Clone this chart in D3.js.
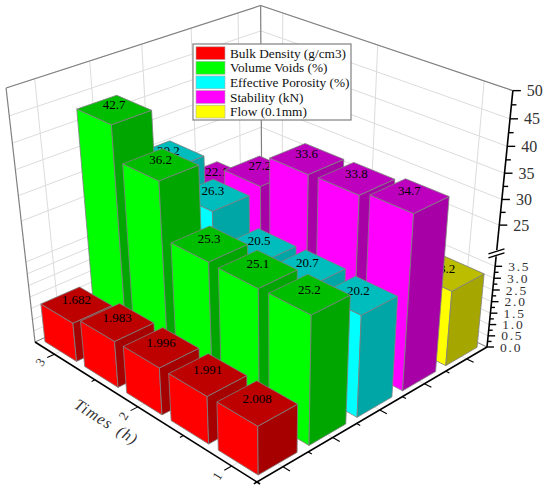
<!DOCTYPE html>
<html><head><meta charset="utf-8">
<style>html,body{margin:0;padding:0;background:#fff}svg{display:block}text{font-family:"Liberation Serif","Times New Roman",serif}</style>
<script src="https://cdn.jsdelivr.net/npm/d3@7/dist/d3.min.js"></script></head>
<body><svg id="c" width="550" height="490"></svg>
<script>
// ---- data ----
const times = ["3","2.5","2","1.5","1"];
const timeLabels = ["3","","2","","1"];
const seriesNames = ["Bulk Density (g/cm3)","Volume Voids (%)","Effective Porosity (%)","Stability (kN)","Flow (0.1mm)"];
const seriesColors = ["#ff0000","#00ff00","#00ffff","#ff00ff","#ffff00"];
const bulkDensity = [1.682,1.983,1.996,1.991,2.008];
const volumeVoids = [42.7,36.2,25.3,25.1,25.2];
const effectivePorosity = [30.2,26.3,20.5,20.7,20.2];
const stability = [22.1,27.2,33.6,33.8,34.7];
const flow = [3.5,3.4,3.3,3.3,3.2];
const seriesValues = [bulkDensity,volumeVoids,effectivePorosity,stability,flow];
const flowShown = [false,false,false,false,true];
const lowTicks = [0,0.5,1,1.5,2,2.5,3,3.5];
const highTicks = [25,30,35,40,45,50];

// ---- scales ----
const uBand = d3.scaleBand().domain(times).range([0,1]).paddingInner(0.2).paddingOuter(0.1);
const vBand = d3.scaleBand().domain(seriesNames).range([0,1]).paddingInner(0.24).paddingOuter(0.12);
const wScale = d3.scaleLinear().domain([0,3.5,3.9,20,50]).range([0,0.34,0.38,0.405,1]);

// ---- perspective from the box's floor corners and vertical vanishing point ----
const A=[35,342],B=[257,482],C=[487,347],D=[262,239],VZ=[275,2449],TOP_Y=88;
const dx1=B[0]-C[0],dx2=D[0]-C[0],sx=A[0]-B[0]+C[0]-D[0];
const dy1=B[1]-C[1],dy2=D[1]-C[1],sy=A[1]-B[1]+C[1]-D[1];
const den=dx1*dy2-dx2*dy1;
const g=(sx*dy2-dx2*sy)/den,h=(dx1*sy-sx*dy1)/den;
const a=B[0]-A[0]+g*B[0],b=D[0]-A[0]+h*D[0],c0=A[0];
const d=B[1]-A[1]+g*B[1],e=D[1]-A[1]+h*D[1],f=A[1];
const t=(TOP_Y-A[1])/(VZ[1]-TOP_Y);
function P(u,v,w){const W=g*u+h*v+1+t*w;
  return [(a*u+b*v+c0+t*w*VZ[0])/W,(d*u+e*v+f+t*w*VZ[1])/W];}
const L=d3.line();

const svg=d3.select("#c");
const walls=svg.append("g"), axes=svg.append("g"), bars=svg.append("g"), legend=svg.append("g");
const wallEdge="#808080", grid="#dcdcdc";
const seg=(g0,p,q,col,sw)=>g0.append("path").attr("d",L([p,q])).attr("stroke",col).attr("stroke-width",sw).attr("fill","none");

// ---- walls ----
const poly=(g0,pts,fill)=>g0.append("path").attr("d",L(pts)+"Z").attr("fill",fill);
poly(walls,[P(0,0,0),P(0,1,0),P(0,1,1),P(0,0,1)],"#fff");
poly(walls,[P(0,1,0),P(1,1,0),P(1,1,1),P(0,1,1)],"#fff");
const uCenters=times.map(k=>uBand(k)+uBand.bandwidth()/2);
const vCenters=seriesNames.map(k=>vBand(k)+vBand.bandwidth()/2);
const gridVals=[...lowTicks,...highTicks];
gridVals.forEach(val=>{const w=wScale(val);
  seg(walls,P(0,0,w),P(0,1,w),grid,1);
  seg(walls,P(0,1,w),P(1,1,w),grid,1);});
vCenters.forEach(v=>{seg(walls,P(0,v,0),P(0,v,1),grid,1);seg(walls,P(0,v,0),P(1,v,0),grid,1);});
[uCenters[0],uCenters[2],uCenters[4]].forEach(u=>{seg(walls,P(u,1,0),P(u,1,1),grid,1);seg(walls,P(u,0,0),P(u,1,0),grid,1);});
seg(walls,P(0,0,0),P(0,0,1),wallEdge,1.2);
seg(walls,P(0,0,1),P(0,1,1),wallEdge,1.2);
seg(walls,P(0,1,1),P(1,1,1),wallEdge,1.2);
seg(walls,P(0,1,0),P(0,1,1),wallEdge,1.2);
seg(walls,P(0,0,0),P(0,1,0),wallEdge,1);
seg(walls,P(0,1,0),P(1,1,0),wallEdge,1);

// ---- axes ----
seg(axes,P(0,0,0),P(1.012,0,0),"#000",1.6);
seg(axes,P(1,-0.012,0),P(1,1,0),"#000",1.6);
seg(axes,P(1,1,0),P(1,1,wScale(3.9)),"#000",1.6);
seg(axes,P(1,1,wScale(20)),P(1,1,1),"#000",1.6);
uCenters.forEach((u,i)=>{const major=i%2===0;
  seg(axes,P(u,0,0),P(u,major?-0.028:-0.013,0),"#000",1.1);
  if(timeLabels[i]){const p=P(u+0.006,-0.06,0);
    axes.append("text").attr("transform",`translate(${p[0]},${p[1]}) rotate(-58)`)
      .attr("text-anchor","middle").attr("dominant-baseline","central").attr("font-size",13).attr("fill","#333").text(timeLabels[i]);}
});
d3.range(1,10).forEach(k=>{const v=k/10,major=k%2===1;
  seg(axes,P(1,v,0),P(major?1.027:1.014,v,0),"#000",1.1);});
const vtick=(val,len)=>{const p=P(1,1,wScale(val));seg(axes,p,[p[0]+len,p[1]],"#000",1.4);return p;};
lowTicks.forEach(val=>{const p=vtick(val,7);
  axes.append("text").attr("x",p[0]+13).attr("y",p[1]).attr("dominant-baseline","central").attr("font-size",13.5).attr("letter-spacing",1.8).attr("fill","#333").text(val.toFixed(1));
  if(val<3.5)vtick(val+0.25,4);});
highTicks.forEach(val=>{const p=vtick(val,8);
  axes.append("text").attr("x",p[0]+14).attr("y",p[1]).attr("dominant-baseline","central").attr("font-size",16).attr("fill","#333").text(val);
  if(val<50)vtick(val+2.5,5);});
const bk=P(1,1,(wScale(3.9)+wScale(20))/2);
[-2,2].forEach(o=>axes.append("path").attr("d",L([[bk[0]-8,bk[1]+o+2.5],[bk[0]+8,bk[1]+o-2.5]])).attr("stroke","#000").attr("stroke-width",1.4).attr("fill","none"));
const tp=P(0.495,-0.115,0);
axes.append("text").attr("transform",`translate(${tp[0]},${tp[1]}) rotate(32)`).attr("text-anchor","middle").attr("dominant-baseline","central")
  .attr("font-size",16).attr("font-style","italic").attr("letter-spacing",1).attr("word-spacing",3).attr("fill","#333").text("Times  (h)");

// ---- bars, painted from the back to the front ----
const shade=(col,k)=>{const r=d3.rgb(col);return d3.rgb(r.r*k,r.g*k,r.b*k).formatHex();};
const edge="#808080";
d3.range(4,-1,-1).forEach(si=>{
  times.forEach((tm,ti)=>{
    const val=seriesValues[si][ti], col=seriesColors[si], w=wScale(val);
    const u0=uBand(tm),u1=u0+uBand.bandwidth(),v0=vBand(seriesNames[si]),v1=v0+vBand.bandwidth();
    const face=(pts,fill)=>bars.append("path").attr("d",L(pts)+"Z").attr("fill",fill).attr("stroke",edge).attr("stroke-width",0.8).attr("stroke-linejoin","round");
    face([P(u0,v0,0),P(u1,v0,0),P(u1,v0,w),P(u0,v0,w)],col);
    face([P(u1,v0,0),P(u1,v1,0),P(u1,v1,w),P(u1,v0,w)],shade(col,0.65));
    face([P(u0,v0,w),P(u1,v0,w),P(u1,v1,w),P(u0,v1,w)],shade(col,0.74));
    if(si<4||flowShown[ti]){
      const m=P((u0+u1)/2,(v0+v1)/2,w);
      bars.append("text").attr("x",m[0]).attr("y",m[1]-5).attr("text-anchor","middle").attr("dominant-baseline","central")
        .attr("font-size",13).attr("fill","#000").text(si===0?val.toFixed(3):val.toFixed(1));
    }
  });
});

// ---- legend ----
const lx=d3.scaleLinear().domain([0,1]).range([193,351]);
const ly=d3.scaleBand().domain(seriesNames).range([46,119]);
legend.append("rect").attr("x",lx(0)).attr("y",44).attr("width",lx(1)-lx(0)).attr("height",76).attr("fill","#fff").attr("stroke","#808080").attr("stroke-width",1.2);
seriesNames.forEach((n,i)=>{
  legend.append("rect").attr("x",196).attr("y",ly(n)+0.8).attr("width",29).attr("height",ly.bandwidth()-1.8).attr("fill",seriesColors[i]).attr("stroke","#aaa").attr("stroke-width",0.6);
  legend.append("text").attr("x",230).attr("y",ly(n)+ly.bandwidth()/2).attr("dominant-baseline","central").attr("font-size",13.3).attr("font-weight",500).attr("fill","#111").text(n);
});
</script></body></html>
